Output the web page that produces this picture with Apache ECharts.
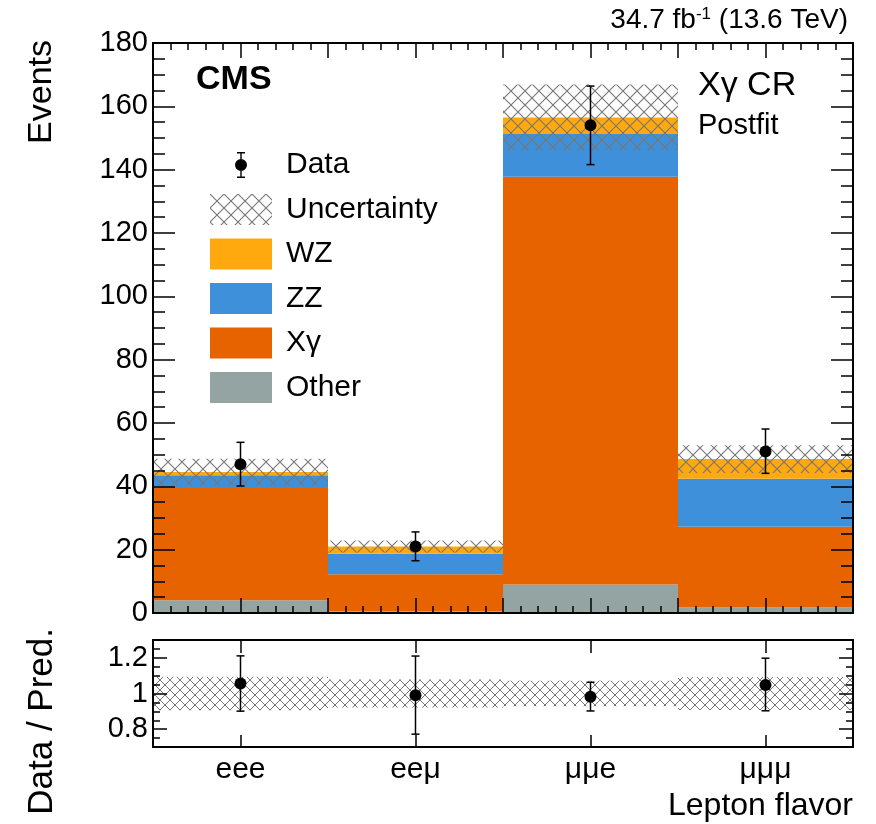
<!DOCTYPE html>
<html>
<head>
<meta charset="utf-8">
<script src="https://cdn.jsdelivr.net/npm/echarts@6/dist/echarts.min.js"></script>
<style>
html,body{margin:0;padding:0;background:#fff;}
#chart{width:876px;height:824px;}
</style>
</head>
<body>
<div id="chart"></div>
<script>
// ---- data ----
const categories = ['eee', 'eeμ', 'μμe', 'μμμ'];
const otherVals  = [4.0, 0.5, 9.0, 1.7];
const xgammaVals = [35.5, 11.7, 128.8, 25.5];
const zzVals     = [4.0, 6.5, 13.5, 15.2];
const wzVals     = [1.0, 2.3, 5.2, 6.2];
const uncVals    = [4.2, 1.9, 10.4, 4.4];
const dataVals   = [47, 21, 154, 51];
const dataErrLo  = [6.9, 4.5, 12.4, 6.9];
const dataErrHi  = [6.9, 4.6, 12.4, 7.1];
const ratioVals  = [1.056, 0.99, 0.982, 1.048];
const ratioErrLo = [0.155, 0.218, 0.08, 0.145];
const ratioErrHi = [0.155, 0.22, 0.081, 0.15];
const ratioUnc   = [0.094, 0.078, 0.072, 0.093];
const ratioTickValues = [0.8, 1.0, 1.2];

const FONT = 'Liberation Sans, Arial, Helvetica, sans-serif';
const COLORS = { WZ: '#ffa90e', ZZ: '#3f90da', Xg: '#e76300', Other: '#94a4a2' };

function makeHatch(s, color, lw) {
  const c = document.createElement('canvas');
  c.width = s; c.height = s;
  const ctx = c.getContext('2d');
  ctx.strokeStyle = color; ctx.lineWidth = lw;
  ctx.beginPath();
  ctx.moveTo(-1, -1); ctx.lineTo(s + 1, s + 1);
  ctx.moveTo(s + 1, -1); ctx.lineTo(-1, s + 1);
  ctx.stroke();
  return c;
}
const hatchMain = { image: makeHatch(14, '#777777', 1.1), repeat: 'repeat' };
const hatchRatio = { image: makeHatch(10, '#777777', 1.0), repeat: 'repeat' };

const totals = categories.map((c, i) => otherVals[i] + xgammaVals[i] + zzVals[i] + wzVals[i]);

const chart = echarts.init(document.getElementById('chart'), null, { renderer: 'canvas' });

const lineStyle = { color: '#000', width: 2 };
const tickStyle = { color: '#000', width: 1.5 };

function bandRender(pattern) {
  return function (params, api) {
    const i = api.value(0), c = api.value(1), u = api.value(2);
    const top = api.coord([i, c + u]);
    const bot = api.coord([i, c - u]);
    const w = api.size([1, 0])[0];
    return { type: 'rect', shape: { x: top[0] - w / 2, y: top[1], width: w, height: bot[1] - top[1] },
             style: { fill: pattern }, z2: 5 };
  };
}
function pointRender(r) {
  return function (params, api) {
    const i = api.value(0), v = api.value(1), lo = api.value(2), hi = api.value(3);
    const p = api.coord([i, v]);
    const pH = api.coord([i, v + hi]);
    const pL = api.coord([i, v - lo]);
    const cap = 4;
    const st = { stroke: '#000', lineWidth: 1.5 };
    return { type: 'group', children: [
      { type: 'line', shape: { x1: p[0], y1: pH[1], x2: p[0], y2: pL[1] }, style: st },
      { type: 'line', shape: { x1: p[0] - cap, y1: pH[1], x2: p[0] + cap, y2: pH[1] }, style: st },
      { type: 'line', shape: { x1: p[0] - cap, y1: pL[1], x2: p[0] + cap, y2: pL[1] }, style: st },
      { type: 'circle', shape: { cx: p[0], cy: p[1], r: r }, style: { fill: '#000' } }
    ] };
  };
}

// icon box 62 x 26 (tiny anchors at the two ends keep the marker centred)
const dataIcon = 'path://M0,13h0.01v0.01h-0.01Z M61.99,13h0.01v0.01h-0.01Z ' +
  'M30.3,0H31.7V26H30.3Z M27,0H35V1.5H27Z M27,24.5H35V26H27Z M25,13A6,6 0 1,1 37,13A6,6 0 1,1 25,13Z';

const option = {
  animation: false,
  backgroundColor: '#fff',
  textStyle: { fontFamily: FONT },
  grid: [
    { left: 153, width: 700, top: 43, height: 570 },
    { left: 153, width: 700, top: 640, height: 107 }
  ],
  legend: [
    { data: [{ name: 'Data', icon: dataIcon }], left: 210, top: 150, orient: 'vertical',
      itemWidth: 62, itemHeight: 26, padding: 0, selectedMode: false,
      textStyle: { fontSize: 30, fontFamily: FONT, color: '#000', padding: [0, 0, 0, 9] } },
    { data: ['Uncertainty', 'WZ', 'ZZ', 'Xγ', 'Other'], left: 210, top: 194, orient: 'vertical',
      icon: 'rect', itemWidth: 62, itemHeight: 31, itemGap: 13.5, padding: 0, selectedMode: false,
      textStyle: { fontSize: 30, fontFamily: FONT, color: '#000', padding: [0, 0, 0, 9] } }
  ],
  xAxis: [
    { type: 'category', gridIndex: 0, data: categories, position: 'bottom',
      axisLine: { show: false }, axisTick: { show: false }, axisLabel: { show: false }, splitLine: { show: false } },
    { type: 'value', gridIndex: 0, min: 0, max: 4, interval: 0.5, position: 'bottom', z: 10,
      axisLine: { show: true, onZero: false, lineStyle: lineStyle },
      axisTick: { show: true, inside: true, length: 15, lineStyle: tickStyle },
      minorTick: { show: true, splitNumber: 5, length: 7, lineStyle: tickStyle },
      axisLabel: { show: false }, splitLine: { show: false }, minorSplitLine: { show: false } },
    { type: 'value', gridIndex: 0, min: 0, max: 4, interval: 0.5, position: 'top', z: 10,
      axisLine: { show: true, onZero: false, lineStyle: lineStyle },
      axisTick: { show: true, inside: true, length: 15, lineStyle: tickStyle },
      minorTick: { show: true, splitNumber: 5, length: 7, lineStyle: tickStyle },
      axisLabel: { show: false }, splitLine: { show: false }, minorSplitLine: { show: false } },
    { type: 'category', gridIndex: 1, data: categories, position: 'bottom', z: 10,
      axisLine: { show: true, onZero: false, lineStyle: lineStyle },
      axisTick: { show: true, inside: true, alignWithLabel: true, length: 12, lineStyle: tickStyle },
      axisLabel: { show: true, fontSize: 30, fontFamily: FONT, color: '#000', margin: 8 },
      splitLine: { show: false } },
    { type: 'category', gridIndex: 1, data: categories, position: 'top', z: 10,
      axisLine: { show: true, onZero: false, lineStyle: lineStyle },
      axisTick: { show: true, inside: true, alignWithLabel: true, length: 13, lineStyle: tickStyle },
      axisLabel: { show: false }, splitLine: { show: false } }
  ],
  yAxis: [
    { type: 'value', gridIndex: 0, min: 0, max: 180, interval: 20, position: 'left', z: 10,
      axisLine: { show: true, onZero: false, lineStyle: lineStyle },
      axisTick: { show: true, inside: true, length: 22, lineStyle: tickStyle },
      minorTick: { show: true, splitNumber: 4, length: 12, lineStyle: tickStyle },
      axisLabel: { show: true, fontSize: 29, fontFamily: FONT, color: '#000', margin: 5 },
      splitLine: { show: false }, minorSplitLine: { show: false } },
    { type: 'value', gridIndex: 0, min: 0, max: 180, interval: 20, position: 'right', z: 10,
      axisLine: { show: true, onZero: false, lineStyle: lineStyle },
      axisTick: { show: true, inside: true, length: 22, lineStyle: tickStyle },
      minorTick: { show: true, splitNumber: 4, length: 12, lineStyle: tickStyle },
      axisLabel: { show: false }, splitLine: { show: false }, minorSplitLine: { show: false } },
    { type: 'value', gridIndex: 1, min: 0.7, max: 1.3, interval: 0.1, position: 'left', z: 10,
      axisLine: { show: true, onZero: false, lineStyle: lineStyle },
      axisTick: { show: true, inside: true, length: 14, lineStyle: tickStyle, customValues: ratioTickValues },
      axisLabel: { show: true, fontSize: 29, fontFamily: FONT, color: '#000', margin: 5, customValues: ratioTickValues },
      splitLine: { show: false } },
    { type: 'value', gridIndex: 1, min: 0.7, max: 1.3, interval: 0.05, position: 'left', z: 10,
      axisLine: { show: false, onZero: false },
      axisTick: { show: true, inside: true, length: 7, lineStyle: tickStyle },
      axisLabel: { show: false }, splitLine: { show: false } },
    { type: 'value', gridIndex: 1, min: 0.7, max: 1.3, interval: 0.1, position: 'right', z: 10,
      axisLine: { show: true, onZero: false, lineStyle: lineStyle },
      axisTick: { show: true, inside: true, length: 14, lineStyle: tickStyle, customValues: ratioTickValues },
      axisLabel: { show: false }, splitLine: { show: false } },
    { type: 'value', gridIndex: 1, min: 0.7, max: 1.3, interval: 0.05, position: 'right', z: 10,
      axisLine: { show: false, onZero: false },
      axisTick: { show: true, inside: true, length: 7, lineStyle: tickStyle },
      axisLabel: { show: false }, splitLine: { show: false } }
  ],
  series: [
    { name: 'Other', type: 'bar', stack: 'mc', xAxisIndex: 0, yAxisIndex: 0, data: otherVals,
      barWidth: '100%', barCategoryGap: '0%', itemStyle: { color: COLORS.Other } },
    { name: 'Xγ', type: 'bar', stack: 'mc', xAxisIndex: 0, yAxisIndex: 0, data: xgammaVals,
      barWidth: '100%', itemStyle: { color: COLORS.Xg } },
    { name: 'ZZ', type: 'bar', stack: 'mc', xAxisIndex: 0, yAxisIndex: 0, data: zzVals,
      barWidth: '100%', itemStyle: { color: COLORS.ZZ } },
    { name: 'WZ', type: 'bar', stack: 'mc', xAxisIndex: 0, yAxisIndex: 0, data: wzVals,
      barWidth: '100%', itemStyle: { color: COLORS.WZ } },
    { name: 'Uncertainty', type: 'custom', xAxisIndex: 0, yAxisIndex: 0, z: 3,
      itemStyle: { color: hatchMain },
      data: categories.map((c, i) => [i, totals[i], uncVals[i]]),
      renderItem: bandRender(hatchMain) },
    { name: 'Data', type: 'custom', xAxisIndex: 0, yAxisIndex: 0, z: 4,
      itemStyle: { color: '#000' },
      data: categories.map((c, i) => [i, dataVals[i], dataErrLo[i], dataErrHi[i]]),
      renderItem: pointRender(6) },
    { name: 'ratioUnc', type: 'custom', xAxisIndex: 3, yAxisIndex: 2, z: 3,
      data: categories.map((c, i) => [i, 1, ratioUnc[i]]),
      renderItem: bandRender(hatchRatio) },
    { name: 'ratioData', type: 'custom', xAxisIndex: 3, yAxisIndex: 2, z: 4,
      data: categories.map((c, i) => [i, ratioVals[i], ratioErrLo[i], ratioErrHi[i]]),
      renderItem: pointRender(6) }
  ],
  graphic: [
    { type: 'text', right: 28, top: 6, style: { text: '{a|34.7 fb}{s|-1}{a| (13.6 TeV)}', fill: '#000',
      rich: { a: { fontSize: 28, fontFamily: FONT, verticalAlign: 'bottom' },
              s: { fontSize: 17, fontFamily: FONT, verticalAlign: 'top' } } } },
    { type: 'text', x: 196, y: 80, style: { text: 'CMS', font: 'bold 34px ' + FONT, fill: '#000', verticalAlign: 'middle' } },
    { type: 'text', x: 698, y: 86, style: { text: 'Xγ CR', font: '34px ' + FONT, fill: '#000', verticalAlign: 'middle' } },
    { type: 'text', x: 698, y: 126, style: { text: 'Postfit', font: '29px ' + FONT, fill: '#000', verticalAlign: 'middle' } },
    { type: 'text', x: 42, y: 40, rotation: Math.PI / 2, style: { text: 'Events', font: '34px ' + FONT, fill: '#000', align: 'right', verticalAlign: 'middle' } },
    { type: 'text', x: 42, y: 628, rotation: Math.PI / 2, style: { text: 'Data / Pred.', font: '35px ' + FONT, fill: '#000', align: 'right', verticalAlign: 'middle' } },
    { type: 'text', x: 853, y: 806, style: { text: 'Lepton flavor', font: '32px ' + FONT, fill: '#000', align: 'right', verticalAlign: 'middle' } }
  ]
};
chart.setOption(option);
</script>
</body>
</html>
